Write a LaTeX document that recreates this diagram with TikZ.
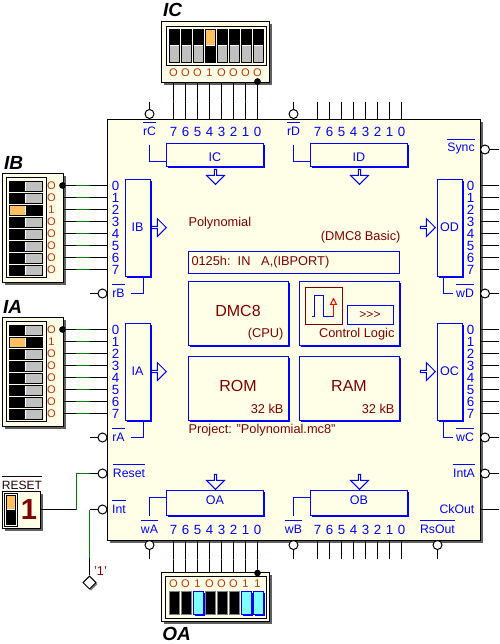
\documentclass[tikz,border=0pt]{standalone}
\usepackage{fontspec}
\setmainfont{Liberation Sans}
\usepackage{xcolor}
\usepackage{tikz}
\usetikzlibrary{arrows.meta,shadows,shapes.arrows,shapes.geometric}
\definecolor{chipfill}{HTML}{FFFFE8}
\definecolor{wgreen}{HTML}{008000}
\definecolor{portblue}{HTML}{0000FF}
\definecolor{txtred}{HTML}{800000}
\definecolor{valred}{HTML}{C83200}
\definecolor{levor}{HTML}{FFC060}
\definecolor{levgray}{HTML}{C0C0C0}
\definecolor{levcyan}{HTML}{80FFFF}
\definecolor{shadegray}{HTML}{606060}
\newcommand{\ovl}[1]{$\overline{\mbox{\rule{0pt}{8pt}#1}}$}
\tikzset{
  plate/.style={draw=black,fill=chipfill,inner sep=0pt,drop shadow={shadow xshift=2.6pt,shadow yshift=-2.6pt,fill=shadegray,opacity=1}},
  frame/.style={draw=black,fill=chipfill,inner sep=0pt},
  wire/.style={draw=black},
  wiregreen/.style={draw=wgreen},
  wirej/.style 2 args={wire,postaction={draw=wgreen,dash pattern=on 0pt off #1 on #2 off 100pt}},
  stub/.style={draw=portblue},
  inv/.style={circle,draw=black,fill=white,inner sep=0pt,minimum size=6.75pt},
  pinlab/.style={inner sep=0pt,text=portblue,font=\fontsize{9.2}{10}\selectfont},
  pinl/.style={pinlab,font=\fontsize{10}{10}\selectfont,minimum width=12pt},
  pinr/.style={pinlab,font=\fontsize{10}{10}\selectfont,minimum width=13.5pt},
  pint/.style={pinlab,font=\fontsize{10}{10}\selectfont,minimum height=18pt},
  pinb/.style={pinlab,font=\fontsize{10}{10}\selectfont,minimum height=15pt},
  portbox/.style={draw=portblue,fill=chipfill,inner sep=0pt,text=portblue,font=\fontsize{9.4}{10}\selectfont,
    drop shadow={shadow xshift=1.125pt,shadow yshift=-1.125pt,fill=portblue,opacity=1}},
  mainbox/.style={portbox,minimum width=75pt,minimum height=48pt,text=txtred,font=\fontsize{12}{13}\selectfont,text height=8.6pt,text depth=2.9pt},
  redtxt/.style={inner sep=0pt,text=txtred,font=\fontsize{9.6}{10}\selectfont},
  portarrow/.style={single arrow,draw=portblue,fill=chipfill,anchor=tip,inner sep=0pt,minimum height=11.25pt,minimum width=13.5pt,single arrow head extend=2.6pt},
  title/.style={inner sep=0pt,font=\fontsize{14.25}{15}\selectfont\bfseries\itshape},
  valtop/.style={inner sep=0pt,text=valred,font=\fontsize{8.3}{9}\selectfont,minimum height=13.5pt},
  valbot/.style={inner sep=0pt,text=valred,font=\fontsize{8.3}{9}\selectfont,minimum height=16.5pt},
  valleft/.style={inner sep=0pt,text=valred,font=\fontsize{8.3}{9}\selectfont,minimum width=16.5pt},
  dipv/.style 2 args={draw=black,inner sep=0pt,minimum width=7.5pt,minimum height=24.75pt,fill=#2,path picture={
    \fill[#1] (path picture bounding box.north west) rectangle (path picture bounding box.east);
    \draw[white] (path picture bounding box.west) -- (path picture bounding box.east);}},
  diph/.style 2 args={draw=black,inner sep=0pt,minimum width=24.75pt,minimum height=7.5pt,fill=#2,path picture={
    \fill[#1] (path picture bounding box.north west) rectangle (path picture bounding box.south);
    \draw[white] (path picture bounding box.north) -- (path picture bounding box.south);}},
  ledoff/.style={draw=gray,fill=black,inner sep=0pt,minimum width=7.5pt,minimum height=17.25pt},
  ledon/.style={draw=portblue,fill=levcyan,inner sep=0pt,minimum width=7.5pt,minimum height=17.25pt,
    drop shadow={shadow xshift=1.125pt,shadow yshift=-1.125pt,fill=portblue,opacity=1}},
  joint/.style={circle,fill=black,inner sep=0pt,minimum size=5pt}
}
\begin{document}
\begin{tikzpicture}[x=.75pt,y=-.75pt,line width=.75pt]
  \useasboundingbox (-.5,-.5) rectangle (499.5,643.5);
  % the chip
  \node[plate,minimum width=279.75pt,minimum height=315.75pt] (chip) at (293,329) {};
  % upper ports
  \node[portbox,minimum width=72.75pt,minimum height=17.25pt,text height=10pt,text depth=0pt] (ic) at (214.5,154.5) {IC};
  \node[portbox,minimum width=72.75pt,minimum height=17.25pt,text height=10pt,text depth=0pt] (id) at (358.5,154.5) {ID};
  \node[portarrow,shape border rotate=270] (icar) at (215,184.5) {};
  \node[portarrow,shape border rotate=270] (idar) at (359,184.5) {};
  \node[portbox,minimum width=72.75pt,minimum height=18.75pt,text height=6.5pt,text depth=3.7pt] (oa) at (214.5,502.5) {OA};
  \node[portbox,minimum width=72.75pt,minimum height=18.75pt,text height=6.5pt,text depth=3.7pt] (ob) at (358.5,502.5) {OB};
  \node[portarrow,shape border rotate=270] (oaar) at (215,489.5) {};
  \node[portarrow,shape border rotate=270] (obar) at (359,489.5) {};
  \node[portbox,minimum width=18.75pt,minimum height=72.75pt] (ib) at (137,227) {IB};
  \node[portbox,minimum width=18.75pt,minimum height=72.75pt] (ia) at (137,371) {IA};
  \node[portbox,minimum width=18.75pt,minimum height=72.75pt] (od) at (449,227) {OD};
  \node[portbox,minimum width=18.75pt,minimum height=72.75pt] (oc) at (449,371) {OC};
  \node[portarrow] (ibar) at (166.5,227) {};
  \node[portarrow] (iaar) at (166.5,371) {};
  \node[portarrow] (odar) at (435.5,227) {};
  \node[portarrow] (ocar) at (435.5,371) {};
  % middle of the chip
  \node[redtxt,anchor=west] (prog) at (187.5,222.5) {Polynomial};
  \node[redtxt,anchor=east] (basic) at (400.5,237) {(DMC8 Basic)};
  \node[draw=portblue,inner sep=0pt,minimum width=158.25pt,minimum height=16.5pt] (instr) at (293,261.5) {};
  \node[redtxt,anchor=west] (instrtxt) at (190.5,261.5) {0125h:\ \ IN\ \ \ A,(IBPORT)};
  \node[mainbox] (cpu) at (237.5,312.5) {DMC8};
  \node[mainbox] (ctrl) at (348.5,312.5) {};
  \node[mainbox] (rom) at (237.5,387.5) {ROM};
  \node[mainbox] (ram) at (348.5,387.5) {RAM};
  \node[redtxt,anchor=east] (cputxt) at (283.5,333.5) {(CPU)};
  \node[redtxt,anchor=east] (ctrltxt) at (394.5,333.5) {Control Logic};
  \node[redtxt,anchor=east] (romtxt) at (283.5,408.5) {32 kB};
  \node[redtxt,anchor=east] (ramtxt) at (394.5,408.5) {32 kB};
  \node[redtxt,anchor=west] (proj) at (187.5,429.5) {Project: "Polynomial.mc8"};
  \node[draw=txtred,inner sep=0pt,minimum width=27.75pt,minimum height=27.75pt] (clk) at (323,305) {};
  \draw[portblue] (311,316) -- (314,316) -- (314,295) -- (323,295) -- (323,316) -- (333,316);
  \draw[red,-{Triangle[open,length=5.5pt,width=5.5pt]}] (333,316) -- (333,297);
  \node[draw=portblue,inner sep=0pt,minimum width=34.5pt,minimum height=14.25pt,text=txtred,font=\fontsize{9}{9}\selectfont] (seq) at (369.5,314) {{>}{>}{>}};
  % wired pin labels, IC side
  \node[pint] (ic7) at (173,131) {7};
  \node[pint] (ic6) at (185,131) {6};
  \node[pint] (ic5) at (197,131) {5};
  \node[pint] (ic4) at (209,131) {4};
  \node[pint] (ic3) at (221,131) {3};
  \node[pint] (ic2) at (233,131) {2};
  \node[pint] (ic1) at (245,131) {1};
  \node[pint] (ic0) at (257,131) {0};
  \node[pint] (id7) at (317,131) {7}; \coordinate (idw7) at (317,101); \draw[wire] (idw7) -- (id7.north);
  \node[pint] (id6) at (329,131) {6}; \coordinate (idw6) at (329,101); \draw[wire] (idw6) -- (id6.north);
  \node[pint] (id5) at (341,131) {5}; \coordinate (idw5) at (341,101); \draw[wire] (idw5) -- (id5.north);
  \node[pint] (id4) at (353,131) {4}; \coordinate (idw4) at (353,101); \draw[wire] (idw4) -- (id4.north);
  \node[pint] (id3) at (365,131) {3}; \coordinate (idw3) at (365,101); \draw[wire] (idw3) -- (id3.north);
  \node[pint] (id2) at (377,131) {2}; \coordinate (idw2) at (377,101); \draw[wire] (idw2) -- (id2.north);
  \node[pint] (id1) at (389,131) {1}; \coordinate (idw1) at (389,101); \draw[wire] (idw1) -- (id1.north);
  \node[pint] (id0) at (401,131) {0}; \coordinate (idw0) at (401,101); \draw[wire] (idw0) -- (id0.north);
  % lower side
  \node[pinb] (oa7) at (173,529) {7};
  \node[pinb] (oa6) at (185,529) {6};
  \node[pinb] (oa5) at (197,529) {5};
  \node[pinb] (oa4) at (209,529) {4};
  \node[pinb] (oa3) at (221,529) {3};
  \node[pinb] (oa2) at (233,529) {2};
  \node[pinb] (oa1) at (245,529) {1};
  \node[pinb] (oa0) at (257,529) {0};
  \node[pinb] (ob7) at (317,529) {7}; \coordinate (obw7) at (317,558); \draw[wire] (ob7.south) -- (obw7);
  \node[pinb] (ob6) at (329,529) {6}; \coordinate (obw6) at (329,558); \draw[wire] (ob6.south) -- (obw6);
  \node[pinb] (ob5) at (341,529) {5}; \coordinate (obw5) at (341,558); \draw[wire] (ob5.south) -- (obw5);
  \node[pinb] (ob4) at (353,529) {4}; \coordinate (obw4) at (353,558); \draw[wire] (ob4.south) -- (obw4);
  \node[pinb] (ob3) at (365,529) {3}; \coordinate (obw3) at (365,558); \draw[wire] (ob3.south) -- (obw3);
  \node[pinb] (ob2) at (377,529) {2}; \coordinate (obw2) at (377,558); \draw[wire] (ob2.south) -- (obw2);
  \node[pinb] (ob1) at (389,529) {1}; \coordinate (obw1) at (389,558); \draw[wire] (ob1.south) -- (obw1);
  \node[pinb] (ob0) at (401,529) {0}; \coordinate (obw0) at (401,558); \draw[wire] (ob0.south) -- (obw0);
  % left side
  \node[pinl] (ib0) at (115,185) {0};
  \node[pinl] (ib1) at (115,197) {1};
  \node[pinl] (ib2) at (115,209) {2};
  \node[pinl] (ib3) at (115,221) {3};
  \node[pinl] (ib4) at (115,233) {4};
  \node[pinl] (ib5) at (115,245) {5};
  \node[pinl] (ib6) at (115,257) {6};
  \node[pinl] (ib7) at (115,269) {7};
  \node[pinl] (ia0) at (115,329) {0};
  \node[pinl] (ia1) at (115,341) {1};
  \node[pinl] (ia2) at (115,353) {2};
  \node[pinl] (ia3) at (115,365) {3};
  \node[pinl] (ia4) at (115,377) {4};
  \node[pinl] (ia5) at (115,389) {5};
  \node[pinl] (ia6) at (115,401) {6};
  \node[pinl] (ia7) at (115,413) {7};
  % right side
  \node[pinr] (od0) at (470,185) {0}; \coordinate (odw0) at (498,185); \draw[wire] (od0.east) -- (odw0);
  \node[pinr] (od1) at (470,197) {1}; \coordinate (odw1) at (498,197); \draw[wire] (od1.east) -- (odw1);
  \node[pinr] (od2) at (470,209) {2}; \coordinate (odw2) at (498,209); \draw[wire] (od2.east) -- (odw2);
  \node[pinr] (od3) at (470,221) {3}; \coordinate (odw3) at (498,221); \draw[wire] (od3.east) -- (odw3);
  \node[pinr] (od4) at (470,233) {4}; \coordinate (odw4) at (498,233); \draw[wire] (od4.east) -- (odw4);
  \node[pinr] (od5) at (470,245) {5}; \coordinate (odw5) at (498,245); \draw[wire] (od5.east) -- (odw5);
  \node[pinr] (od6) at (470,257) {6}; \coordinate (odw6) at (498,257); \draw[wire] (od6.east) -- (odw6);
  \node[pinr] (od7) at (470,269) {7}; \coordinate (odw7) at (498,269); \draw[wire] (od7.east) -- (odw7);
  \node[pinr] (oc0) at (470,329) {0}; \coordinate (ocw0) at (498,329); \draw[wire] (oc0.east) -- (ocw0);
  \node[pinr] (oc1) at (470,341) {1}; \coordinate (ocw1) at (498,341); \draw[wire] (oc1.east) -- (ocw1);
  \node[pinr] (oc2) at (470,353) {2}; \coordinate (ocw2) at (498,353); \draw[wire] (oc2.east) -- (ocw2);
  \node[pinr] (oc3) at (470,365) {3}; \coordinate (ocw3) at (498,365); \draw[wire] (oc3.east) -- (ocw3);
  \node[pinr] (oc4) at (470,377) {4}; \coordinate (ocw4) at (498,377); \draw[wire] (oc4.east) -- (ocw4);
  \node[pinr] (oc5) at (470,389) {5}; \coordinate (ocw5) at (498,389); \draw[wire] (oc5.east) -- (ocw5);
  \node[pinr] (oc6) at (470,401) {6}; \coordinate (ocw6) at (498,401); \draw[wire] (oc6.east) -- (ocw6);
  \node[pinr] (oc7) at (470,413) {7}; \coordinate (ocw7) at (498,413); \draw[wire] (oc7.east) -- (ocw7);
  % control pins
  \node[pinlab] (rc) at (149,128) {\ovl{rC}};
  \node[pinlab] (rd) at (293,128) {\ovl{rD}};
  \node[pinlab] (ra) at (118,434) {\ovl{rA}};
  \node[pinlab] (rb) at (118,290) {\ovl{rB}};
  \node[pinlab] (rst) at (128.5,470) {\ovl{Reset}};
  \node[pinlab] (int) at (118.5,506) {\ovl{Int}};
  \node[pinlab] (wa) at (149,526) {\ovl{wA}};
  \node[pinlab] (wb) at (293,526) {\ovl{wB}};
  \node[pinlab] (rsout) at (437,526) {\ovl{RsOut}};
  \node[pinlab] (sync) at (460.5,146) {\ovl{Sync}};
  \node[pinlab] (wd) at (464.5,290) {\ovl{wD}};
  \node[pinlab] (wc) at (464.5,434) {\ovl{wC}};
  \node[pinlab] (inta) at (463.5,470) {\ovl{IntA}};
  \node[pinlab] (ckout) at (456.5,508.5) {CkOut};
  \coordinate (rcs) at (149,144); \draw[stub] (rcs) |- ([yshift=-4.875pt]ic.west);
  \coordinate (rds) at (293,144); \draw[stub] (rds) |- ([yshift=-4.875pt]id.west);
  \coordinate (rbs) at (130,293); \draw[stub] (rbs) -| ([xshift=4.5pt]ib.south);
  \coordinate (ras) at (130,437); \draw[stub] (ras) -| ([xshift=4.5pt]ia.south);
  \coordinate (wds) at (452,293); \draw[stub] (wds) -| ([xshift=-4.5pt]od.south);
  \coordinate (wcs) at (452,437); \draw[stub] (wcs) -| ([xshift=-4.5pt]oc.south);
  \coordinate (was) at (149,515); \draw[stub] (was) |- ([yshift=4.125pt]oa.west);
  \coordinate (wbs) at (293,515); \draw[stub] (wbs) |- ([yshift=4.125pt]ob.west);
  % inverter circles
  \node[inv] (crc) at (149,113.5) {}; \coordinate (crcw) at (149,101); \draw[wire] (crcw) -- (crc);
  \node[inv] (crd) at (293,113.5) {}; \coordinate (crdw) at (293,101); \draw[wire] (crdw) -- (crd);
  \node[inv] (cwa) at (149,544.5) {}; \coordinate (cwaw) at (149,558); \draw[wire] (cwa) -- (cwaw);
  \node[inv] (cwb) at (293,544.5) {}; \coordinate (cwbw) at (293,558); \draw[wire] (cwb) -- (cwbw);
  \node[inv] (crs) at (437,544.5) {}; \coordinate (crsw) at (437,558); \draw[wire] (crs) -- (crsw);
  \node[inv] (crb) at (102,293) {}; \coordinate (crbw) at (89,293); \draw[wire] (crbw) -- (crb);
  \node[inv] (cra) at (102,437) {}; \coordinate (craw) at (89,437); \draw[wire] (craw) -- (cra);
  \node[inv] (csy) at (484.5,149) {}; \coordinate (csyw) at (498,149); \draw[wire] (csy) -- (csyw);
  \node[inv] (cwd) at (484.5,293) {}; \coordinate (cwdw) at (498,293); \draw[wire] (cwd) -- (cwdw);
  \node[inv] (cwc) at (484.5,437) {}; \coordinate (cwcw) at (498,437); \draw[wire] (cwc) -- (cwcw);
  \node[inv] (cia) at (484.5,473) {}; \coordinate (ciaw) at (498,473); \draw[wire] (cia) -- (ciaw);
  \coordinate (cko) at (479,509); \coordinate (ckow) at (498,509); \draw[wire] (cko) -- (ckow);
  % switch block IC
  \node[title] (ictitle) at (172,9.5) {IC};
  \node[plate,minimum width=81pt,minimum height=45.75pt] (swic) at (214.5,51) {};
  \node[frame,minimum width=75pt,minimum height=29.25pt] (fric) at (215.5,45) {};
  \node[dipv={black}{levgray}] (sic7) at (173.5,45) {};
  \node[dipv={black}{levgray}] (sic6) at (185.5,45) {};
  \node[dipv={black}{levgray}] (sic5) at (197.5,45) {};
  \node[dipv={levor}{black}] (sic4) at (209.5,45) {};
  \node[dipv={black}{levgray}] (sic3) at (221.5,45) {};
  \node[dipv={black}{levgray}] (sic2) at (233.5,45) {};
  \node[dipv={black}{levgray}] (sic1) at (245.5,45) {};
  \node[dipv={black}{levgray}] (sic0) at (257.5,45) {};
  \node[valtop] (vic7) at (173,72) {O}; \draw[wirej={13.9pt}{.75pt}] (vic7.south) -- (ic7.north);
  \node[valtop] (vic6) at (185,72) {O}; \draw[wirej={13.9pt}{.75pt}] (vic6.south) -- (ic6.north);
  \node[valtop] (vic5) at (197,72) {O}; \draw[wirej={13.9pt}{.75pt}] (vic5.south) -- (ic5.north);
  \node[valtop] (vic4) at (209,72) {1}; \draw[wirej={13.9pt}{.75pt}] (vic4.south) -- (ic4.north);
  \node[valtop] (vic3) at (221,72) {O}; \draw[wirej={13.9pt}{.75pt}] (vic3.south) -- (ic3.north);
  \node[valtop] (vic2) at (233,72) {O}; \draw[wirej={13.9pt}{.75pt}] (vic2.south) -- (ic2.north);
  \node[valtop] (vic1) at (245,72) {O}; \draw[wirej={13.9pt}{.75pt}] (vic1.south) -- (ic1.north);
  \node[valtop] (vic0) at (257,72) {O}; \draw[wirej={13.9pt}{.75pt}] (vic0.south) -- (ic0.north);
  \node[joint] (jic) at (257,81) {};
  % switch block IB
  \node[title] (ibtitle) at (13,162.5) {IB};
  \node[plate,minimum width=45.75pt,minimum height=81.75pt] (swib) at (32,227) {};
  \node[frame,minimum width=30pt,minimum height=75pt] (frib) at (25.5,226.5) {};
  \node[diph={black}{levgray}] (sib0) at (25,185.5) {};
  \node[diph={black}{levgray}] (sib1) at (25,197.5) {};
  \node[diph={levor}{black}] (sib2) at (25,209.5) {};
  \node[diph={black}{levgray}] (sib3) at (25,221.5) {};
  \node[diph={black}{levgray}] (sib4) at (25,233.5) {};
  \node[diph={black}{levgray}] (sib5) at (25,245.5) {};
  \node[diph={black}{levgray}] (sib6) at (25,257.5) {};
  \node[diph={black}{levgray}] (sib7) at (25,269.5) {};
  \node[valleft] (vib0) at (51,185) {O}; \draw[wirej={9.4pt}{10.5pt}] (vib0.east) -- (ib0.west);
  \node[valleft] (vib1) at (51,197) {O}; \draw[wirej={9.4pt}{10.5pt}] (vib1.east) -- (ib1.west);
  \node[valleft] (vib2) at (51,209) {1}; \draw[wirej={9.4pt}{10.5pt}] (vib2.east) -- (ib2.west);
  \node[valleft] (vib3) at (51,221) {O}; \draw[wirej={9.4pt}{10.5pt}] (vib3.east) -- (ib3.west);
  \node[valleft] (vib4) at (51,233) {O}; \draw[wirej={9.4pt}{10.5pt}] (vib4.east) -- (ib4.west);
  \node[valleft] (vib5) at (51,245) {O}; \draw[wirej={9.4pt}{10.5pt}] (vib5.east) -- (ib5.west);
  \node[valleft] (vib6) at (51,257) {O}; \draw[wirej={9.4pt}{10.5pt}] (vib6.east) -- (ib6.west);
  \node[valleft] (vib7) at (51,269) {O}; \draw[wirej={9.4pt}{10.5pt}] (vib7.east) -- (ib7.west);
  \node[joint] (jib) at (62,185) {};
  % switch block IA
  \node[title] (iatitle) at (12,306.5) {IA};
  \node[plate,minimum width=45.75pt,minimum height=81.75pt] (swia) at (32,371) {};
  \node[frame,minimum width=30pt,minimum height=75pt] (fria) at (25.5,370.5) {};
  \node[diph={black}{levgray}] (sia0) at (25,329.5) {};
  \node[diph={levor}{black}] (sia1) at (25,341.5) {};
  \node[diph={black}{levgray}] (sia2) at (25,353.5) {};
  \node[diph={black}{levgray}] (sia3) at (25,365.5) {};
  \node[diph={black}{levgray}] (sia4) at (25,377.5) {};
  \node[diph={black}{levgray}] (sia5) at (25,389.5) {};
  \node[diph={black}{levgray}] (sia6) at (25,401.5) {};
  \node[diph={black}{levgray}] (sia7) at (25,413.5) {};
  \node[valleft] (via0) at (51,329) {O}; \draw[wirej={9.4pt}{10.5pt}] (via0.east) -- (ia0.west);
  \node[valleft] (via1) at (51,341) {1}; \draw[wirej={9.4pt}{10.5pt}] (via1.east) -- (ia1.west);
  \node[valleft] (via2) at (51,353) {O}; \draw[wirej={9.4pt}{10.5pt}] (via2.east) -- (ia2.west);
  \node[valleft] (via3) at (51,365) {O}; \draw[wirej={9.4pt}{10.5pt}] (via3.east) -- (ia3.west);
  \node[valleft] (via4) at (51,377) {O}; \draw[wirej={9.4pt}{10.5pt}] (via4.east) -- (ia4.west);
  \node[valleft] (via5) at (51,389) {O}; \draw[wirej={9.4pt}{10.5pt}] (via5.east) -- (ia5.west);
  \node[valleft] (via6) at (51,401) {O}; \draw[wirej={9.4pt}{10.5pt}] (via6.east) -- (ia6.west);
  \node[valleft] (via7) at (51,413) {O}; \draw[wirej={9.4pt}{10.5pt}] (via7.east) -- (ia7.west);
  \node[joint] (jia) at (62,329) {};
  % display block OA
  \node[title] (oatitle) at (176,633) {OA};
  \node[plate,minimum width=81pt,minimum height=36.75pt] (swoa) at (214.5,596) {};
  \node[frame,minimum width=75.75pt,minimum height=31.5pt] (froa) at (215,596.5) {};
  \node[ledoff] (loa7) at (173.5,602) {};
  \node[ledoff] (loa6) at (185.5,602) {};
  \node[ledon] (loa5) at (197.5,602) {};
  \node[ledoff] (loa4) at (209.5,602) {};
  \node[ledoff] (loa3) at (221.5,602) {};
  \node[ledoff] (loa2) at (233.5,602) {};
  \node[ledon] (loa1) at (245.5,602) {};
  \node[ledon] (loa0) at (257.5,602) {};
  \node[valbot] (voa7) at (173,583) {O}; \draw[wirej={14.6pt}{.75pt}] (oa7.south) -- (voa7.north);
  \node[valbot] (voa6) at (185,583) {O}; \draw[wirej={14.6pt}{.75pt}] (oa6.south) -- (voa6.north);
  \node[valbot] (voa5) at (197,583) {1}; \draw[wirej={14.6pt}{.75pt}] (oa5.south) -- (voa5.north);
  \node[valbot] (voa4) at (209,583) {O}; \draw[wirej={14.6pt}{.75pt}] (oa4.south) -- (voa4.north);
  \node[valbot] (voa3) at (221,583) {O}; \draw[wirej={14.6pt}{.75pt}] (oa3.south) -- (voa3.north);
  \node[valbot] (voa2) at (233,583) {O}; \draw[wirej={14.6pt}{.75pt}] (oa2.south) -- (voa2.north);
  \node[valbot] (voa1) at (245,583) {1}; \draw[wirej={14.6pt}{.75pt}] (oa1.south) -- (voa1.north);
  \node[valbot] (voa0) at (257,583) {1}; \draw[wirej={14.6pt}{.75pt}] (oa0.south) -- (voa0.north);
  \node[joint] (joa) at (257,572.5) {};
  % reset key and the two lower left pins
  \node[inner sep=0pt,text=black!75!txtred,font=\fontsize{9}{10}\selectfont] (rsttxt) at (21.5,482) {\ovl{RESET}};
  \node[plate,minimum width=28.5pt,minimum height=27.75pt] (rstbody) at (20.5,509) {};
  \node[frame,minimum width=9.75pt,minimum height=24.75pt] (rstframe) at (10,509) {};
  \node[dipv={levor}{black},minimum width=6.75pt,minimum height=21.75pt] (rstkey) at (10,509) {};
  \node[inner sep=0pt,text=txtred,font=\fontsize{21.75}{22}\selectfont\bfseries] (rstval) at (28.5,509) {1};
  \node[inv] (crst) at (102,473) {};
  \node[inv] (cint) at (102,509) {};
  \coordinate (rsa) at (76,509); \coordinate (rsb) at (76,473); \coordinate (rsc) at (89,473);
  \draw[wire] (rstbody.east) -- (rsa);
  \draw[wiregreen] (rsa) -- (rsb) -- (rsc);
  \draw[wire] (rsc) -- (crst);
  \node[diamond,draw=black,fill=white,inner sep=0pt,minimum size=10pt,drop shadow={shadow xshift=1.2pt,shadow yshift=-1.2pt,fill=gray,opacity=1}] (hi) at (89,582) {};
  \node[redtxt] (hitxt) at (100,571) {'1'};
  \coordinate (ina) at (89,509); \coordinate (inb) at (89,557);
  \draw[wire] (cint) -- (ina);
  \draw[wiregreen] (ina) -- (inb);
  \draw[wire] (inb) -- (hi.north);
\end{tikzpicture}
\end{document}
